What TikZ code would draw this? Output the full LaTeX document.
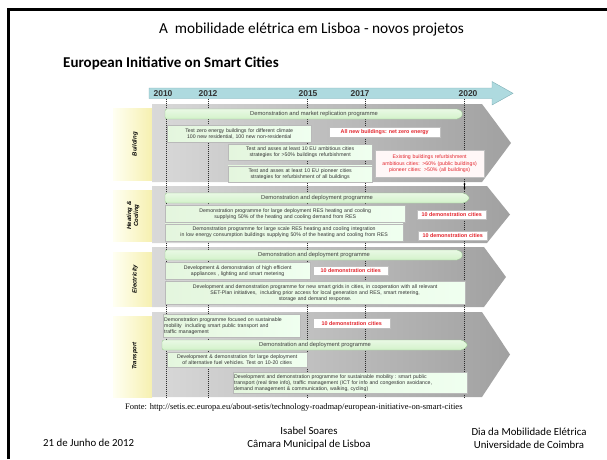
\documentclass[tikz,border=0pt]{standalone}
\usepackage{fontspec}
\setmainfont{Carlito}
\newfontfamily\arialf{Liberation Sans}
\newfontfamily\seriff{Liberation Serif}
\usetikzlibrary{arrows.meta}
\definecolor{tlblue}{HTML}{AEDADF}
\definecolor{tlline}{HTML}{7FAFB6}
\definecolor{redtxt}{HTML}{E3262E}
\definecolor{gbarfill}{HTML}{D3F2CA}
\definecolor{gbarline}{HTML}{9CC993}
\definecolor{boxfill}{HTML}{E4F6DE}
\definecolor{lblyel}{HTML}{F6F0B0}
\tikzset{
 tbox/.style={draw=gray!55, line width=0.35pt, left color=boxfill, right color=white!94!green, inner xsep=1pt, inner ysep=0.5pt, anchor=north west, align=center, font=\arialf\fontsize{5.2}{6}\selectfont, text=black!80},
 rbox/.style={draw=gray!50, line width=0.35pt, fill=white, inner sep=0.5pt, anchor=north west, align=center, font=\arialf\bfseries\fontsize{5.4}{6.2}\selectfont, text=redtxt},
 gbar/.style={draw=gbarline, line width=0.35pt, top color=gbarfill!50!white, bottom color=gbarfill, rounded corners=2pt},
 gtext/.style={font=\arialf\fontsize{5.8}{7}\selectfont, text=black!75, inner sep=0pt},
 chev/.style={left color=gray!30, right color=gray!74},
 lbl/.style={left color=yellow!5, right color=lblyel},
 lbltext/.style={font=\arialf\bfseries\itshape\fontsize{6}{7}\selectfont, align=center, rotate=90, inner sep=0pt},
 yline/.style={gray!35!black, line width=0.3pt, dash pattern=on 1pt off 1pt},
 yearlbl/.style={font=\arialf\bfseries\fontsize{8.5}{9}\selectfont, text=black!80, inner sep=0pt},
 foot/.style={font=\fontsize{10.8}{13}\selectfont, align=center, inner sep=0pt},
}
\begin{document}
\begin{tikzpicture}[x=1pt,y=-1pt]
\useasboundingbox (0,0) rectangle (607,459);
% slide frame
\draw[line width=2.6pt] (8.7,459) -- (8.7,9.5) -- (607,9.5);
% titles
\node[font=\fontsize{15.3}{17}\selectfont, inner sep=0pt] (title) at (311.5,29.5) {A\ \ mobilidade elétrica em Lisboa - novos projetos};
\node[font=\bfseries\fontsize{15}{17}\selectfont, anchor=west, inner sep=0pt] (sub) at (63,63.3) {European Initiative on Smart Cities};
% timeline arrow
\draw[fill=tlblue, draw=tlline, line width=0.4pt] (149,88) -- (492,88) -- (492,81.5) -- (513,93.3) -- (492,105) -- (492,98.5) -- (149,98.5) -- cycle;
\node[yearlbl] (y2010) at (163,93.3) {2010};
\node[yearlbl] (y2012) at (208,93.3) {2012};
\node[yearlbl] (y2015) at (308,93.3) {2015};
\node[yearlbl] (y2017) at (360,93.3) {2017};
\node[yearlbl] (y2020) at (468,93.3) {2020};
% sector labels
\shade[lbl] (113,108) rectangle (152,180);
\shade[lbl] (113,190) rectangle (152,241);
\shade[lbl] (113,252) rectangle (152,306);
\shade[lbl] (113,316) rectangle (152,397);
\node[lbltext] (lB) at (135,144) {Building};
\node[lbltext] (lH) at (133,215.5) {Heating \&\\Cooling};
\node[lbltext] (lE) at (135,279) {Electricity};
\node[lbltext] (lT) at (135,356) {Transport};
% chevrons
\shade[chev] (152,104) -- (482,104) -- (511,143) -- (482,182) -- (152,182) -- cycle;
\shade[chev] (152,186) -- (487,186) -- (510,214.5) -- (487,243) -- (152,243) -- cycle;
\shade[chev] (152,247) -- (484,247) -- (506,277) -- (484,307) -- (152,307) -- cycle;
\shade[chev] (152,312) -- (482,312) -- (510,354.5) -- (482,397) -- (152,397) -- cycle;
% year lines
\foreach \xx in {165.7,207.7,307,365,464.5}{\draw[yline] (\xx,98.5) -- (\xx,397);}
\coordinate (mA) at (464.5,182.5);
\coordinate (mB) at (464.5,189.5);
\draw[{Stealth[length=2pt,width=2.2pt]}-{Stealth[length=2pt,width=2.2pt]}, line width=0.5pt] (mA) -- (mB);
% Building row
\draw[gbar] (165,109) -- (459,109) -- (463.5,114) -- (459,119) -- (165,119) -- cycle;
\node[gtext] (gB) at (314,114) {Demonstration and market replication programme};
\node[tbox, text width=142pt, minimum height=17pt] (b1) at (167,125) {Test zero energy buildings for different climate\\100 new residential, 100 new non-residential};
\node[rbox, minimum width=111pt, minimum height=10pt] (r1) at (329,127) {All new buildings: net zero energy};
\node[tbox, text width=142pt, minimum height=16pt] (b2) at (228,144) {Test and asses at least 10 EU ambitious cities\\strategies for >50\% buildings refurbishment};
\node[tbox, text width=142pt, minimum height=16pt] (b3) at (228,165.5) {Test and asses at least 10 EU pioneer cities\\strategies for refurbishment of all buildings};
\node[rbox, text width=108pt, minimum height=27pt, font=\arialf\fontsize{5.2}{6.4}\selectfont, fill=red!3] (r2) at (375,150) {Existing buildings refurbishment\\ambitious cities: >60\% (public buildings)\\pioneer cities: >50\% (all buildings)};
% Heating row
\draw[gbar] (165,193) -- (465,193) -- (470,198) -- (465,203) -- (165,203) -- cycle;
\node[gtext] (gH) at (317,198) {Demonstration and deployment programme};
\node[tbox, text width=238pt, minimum height=17pt] (h1) at (165,205) {Demonstration programme for large deployment RES heating and cooling\\supplying 50\% of the heating and cooling demand from RES};
\node[rbox, minimum width=69pt, minimum height=9pt] (h1r) at (417,210) {10 demonstration cities};
\node[tbox, text width=236pt, minimum height=17pt] (h2) at (165,223.5) {Demonstration programme for large scale RES heating and cooling integration\\in low energy consumption buildings supplying 50\% of the heating and cooling from RES};
\node[rbox, minimum width=69pt, minimum height=9pt] (h2r) at (418,231) {10 demonstration cities};
% Electricity row
\draw[gbar] (165,250) -- (459,250) -- (463.5,255) -- (459,260) -- (165,260) -- cycle;
\node[gtext] (gE) at (314,255) {Demonstration and deployment programme};
\node[tbox, text width=143pt, minimum height=17pt] (e1) at (165,262) {Development \& demonstration of high efficient\\appliances , lighting and smart metering};
\node[rbox, minimum width=75pt, minimum height=9pt] (e1r) at (313,266) {10 demonstration cities};
\node[tbox, text width=298pt, minimum height=23pt] (e2) at (165,281) {Development and demonstration programme for new smart grids in cities, in cooperation with all relevant\\SET-Plan initiatives,\ \ including prior access for local generation and RES, smart metering,\\storage and demand response.};
% Transport row
\node[tbox, text width=135pt, minimum height=23pt, align=left] (t1) at (163,314) {Demonstration programme focused on sustainable\\mobility\ \ including smart public transport and\\traffic management};
\node[rbox, minimum width=77pt, minimum height=10pt] (t1r) at (313,318) {10 demonstration cities};
\draw[gbar] (162,340) -- (463,340) -- (468,345) -- (463,350) -- (162,350) -- cycle;
\node[gtext] (gT) at (315,345) {Demonstration and deployment programme};
\node[tbox, text width=138pt, minimum height=15pt] (t2) at (167,352) {Development \& demonstration for large deployment\\of alternative fuel vehicles.\ Test on 10-20 cities};
\node[tbox, text width=232pt, minimum height=21pt, align=left] (t3) at (233,372) {Development and demonstration programme for sustainable mobility :\ smart public\\transport (real time info),\ traffic management (ICT for info and congestion avoidance,\\demand management \& communication,\ walking, cycling)};
% source
\node[font=\seriff\fontsize{8.5}{9}\selectfont, anchor=west, inner sep=0pt] (src) at (125,407) {Fonte: http://setis.ec.europa.eu/about-setis/technology-roadmap/european-initiative-on-smart-cities};
% footer
\node[foot, anchor=west] (date) at (43,443) {21 de Junho de 2012};
\node[foot] (auth) at (309,438.5) {Isabel Soares\\Câmara Municipal de Lisboa};
\node[foot] (event) at (529,438.5) {Dia da Mobilidade Elétrica\\Universidade de Coimbra};
\end{tikzpicture}
\end{document}
